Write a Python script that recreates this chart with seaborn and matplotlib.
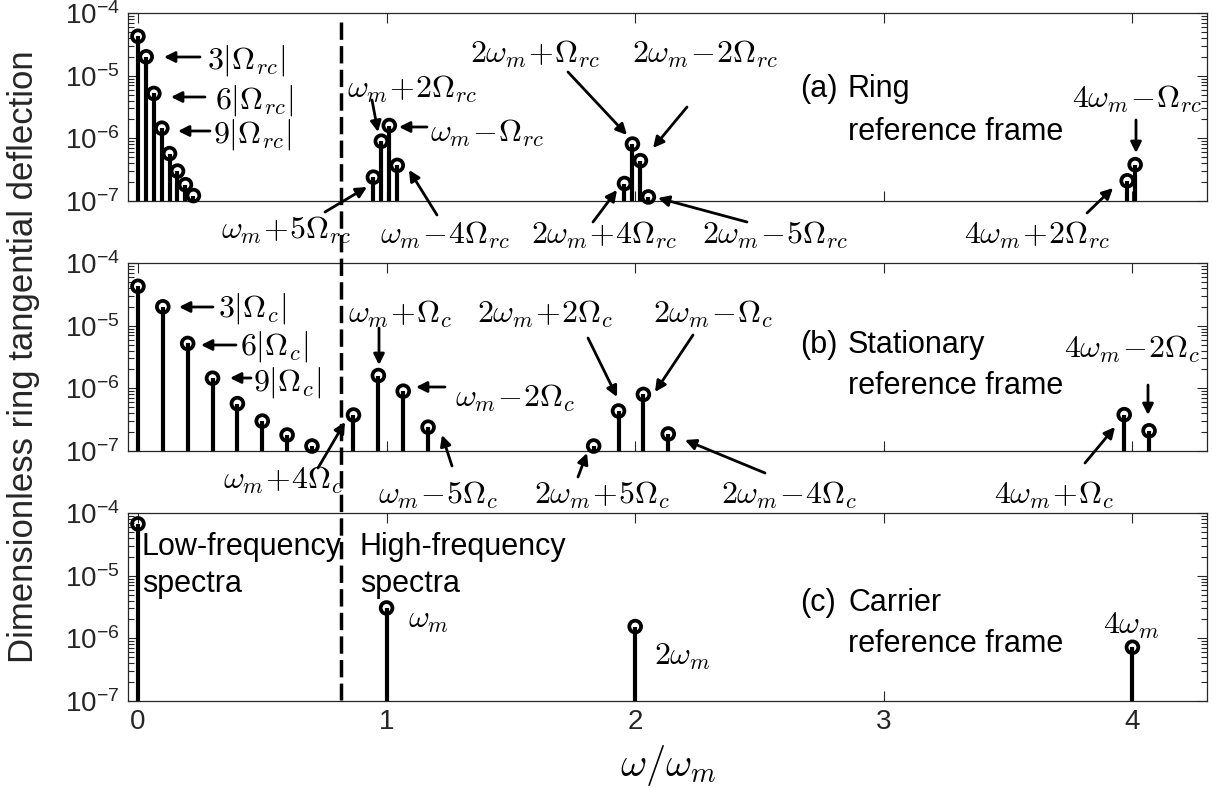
import numpy as np
import matplotlib
matplotlib.use("Agg")
import matplotlib.pyplot as plt
import seaborn as sns
from matplotlib import transforms
from matplotlib.lines import Line2D
from matplotlib.ticker import LogLocator, FixedLocator, FixedFormatter, NullFormatter

# (a) ring reference frame
a_x = [0.0, 0.033, 0.064, 0.096, 0.127, 0.159, 0.191, 0.223,
       0.947, 0.979, 1.011, 1.043, 1.957, 1.989, 2.021, 2.053, 3.979, 4.011]
a_y = [4.25e-5, 2.0e-5, 5.2e-6, 1.45e-6, 5.7e-7, 3.0e-7, 1.82e-7, 1.22e-7,
       2.4e-7, 9.0e-7, 1.6e-6, 3.7e-7, 1.9e-7, 8.1e-7, 4.4e-7, 1.16e-7, 2.1e-7, 3.8e-7]

# (b) stationary reference frame
b_x = [0.0, 0.1, 0.2, 0.3, 0.4, 0.5, 0.6, 0.7,
       0.867, 0.967, 1.067, 1.167, 1.833, 1.933, 2.033, 2.133, 3.967, 4.067]
b_y = [4.25e-5, 2.0e-5, 5.2e-6, 1.45e-6, 5.7e-7, 3.0e-7, 1.8e-7, 1.2e-7,
       3.75e-7, 1.6e-6, 9.0e-7, 2.4e-7, 1.2e-7, 4.35e-7, 8.0e-7, 1.87e-7, 3.8e-7, 2.1e-7]

# (c) carrier reference frame
c_x = [0.0, 1.0, 2.0, 4.0]
c_y = [6.7e-5, 3.05e-6, 1.54e-6, 7.2e-7]

x_ticks = [0, 1, 2, 3, 4]
y_ticks = [1e-7, 1e-6, 1e-5, 1e-4]
y_ticklabels = [r"$\mathregular{10^{-7}}$", r"$\mathregular{10^{-6}}$",
                r"$\mathregular{10^{-5}}$", r"$\mathregular{10^{-4}}$"]
split_freq = 0.817

sns.set_style("ticks")
plt.rcParams["font.family"] = ["Liberation Sans", "DejaVu Sans"]
plt.rcParams["mathtext.fontset"] = "cm"

W, H = 1213, 789
fig = plt.figure(figsize=(W / 100, H / 100), dpi=100)

boxes = [(13, 201), (263, 451), (513, 701)]
left, right = 128, 1207
axes = []
for top, bot in boxes:
    ax = fig.add_axes([left / W, 1 - bot / H, (right - left) / W, (bot - top) / H])
    axes.append(ax)


def stems(ax, xs, ys):
    ax.vlines(xs, 1e-7, ys, color="black", lw=3.0, zorder=2)
    sns.scatterplot(x=xs, y=ys, ax=ax, s=72, marker="o", facecolor="none",
                    edgecolor="black", linewidth=2.7, zorder=3, clip_on=False)


for ax, xs, ys in zip(axes, [a_x, b_x, c_x], [a_y, b_y, c_y]):
    stems(ax, xs, ys)
    ax.set_yscale("log")
    ax.set_ylim(1e-7, 1e-4)
    ax.set_xlim(-0.04, 4.30)
    ax.yaxis.set_major_locator(FixedLocator(y_ticks))
    ax.yaxis.set_major_formatter(FixedFormatter(y_ticklabels))
    ax.yaxis.set_minor_locator(LogLocator(base=10, subs=np.arange(2, 10), numticks=20))
    ax.yaxis.set_minor_formatter(NullFormatter())
    ax.set_xticks(x_ticks)
    ax.tick_params(which="both", direction="in", top=True, right=True,
                   left=True, bottom=True, color="#262626", width=0.8)
    ax.tick_params(which="major", length=7.5, labelsize=20, pad=6, labelcolor="#262626")
    ax.tick_params(which="minor", length=4)
    for sp in ax.spines.values():
        sp.set_color("#262626")
        sp.set_linewidth(0.9)
    ax.set_xlabel("")
    ax.set_ylabel("")
for ax in axes[:2]:
    ax.set_xticklabels([])
axes[2].set_xticklabels([str(t) for t in x_ticks])

# dashed divider across all panels
blend = transforms.blended_transform_factory(axes[2].transData, fig.transFigure)
fig.add_artist(Line2D([split_freq, split_freq], [1 - 22 / H, 1 - 700 / H], transform=blend,
                      color="black", lw=2.5, ls=(0, (5, 1.8)), zorder=5))

MS = 23  # math label size


def label(txt, x, y, ha="center", size=MS):
    fig.text(x / W, 1 - y / H, txt, ha=ha, va="center", fontsize=size, color="black")


def arrow(tail, head):
    fig.add_artist(matplotlib.patches.FancyArrowPatch(
        (tail[0] / W, 1 - tail[1] / H), (head[0] / W, 1 - head[1] / H),
        transform=fig.transFigure, arrowstyle="-|>", mutation_scale=16,
        color="black", lw=2.0, shrinkA=0, shrinkB=0, zorder=6))


# panel (a) labels
label(r"$3|\Omega_{rc}|$", 207, 60, ha="left")
arrow((200, 57), (164, 57))
label(r"$6|\Omega_{rc}|$", 215, 100, ha="left")
arrow((205, 97), (171, 97))
label(r"$9|\Omega_{rc}|$", 213, 134, ha="left")
arrow((210, 131), (178, 131))
label(r"$\omega_m\!+\!5\Omega_{rc}$", 286, 230)
arrow((325, 212), (367, 187))
label(r"$\omega_m\!+\!2\Omega_{rc}$", 412, 89)
arrow((372, 100), (378, 132))
label(r"$\omega_m\!-\!\Omega_{rc}$", 430, 133, ha="left")
arrow((427, 127), (399, 127))
label(r"$\omega_m\!-\!4\Omega_{rc}$", 445, 235)
arrow((437, 215), (409, 170))
label(r"$2\omega_m\!+\!\Omega_{rc}$", 535, 54)
arrow((568, 72), (627, 135))
label(r"$2\omega_m\!-\!2\Omega_{rc}$", 705, 54)
arrow((687, 107), (653, 148))
label(r"$2\omega_m\!+\!4\Omega_{rc}$", 604, 235)
arrow((593, 222), (617, 190))
label(r"$2\omega_m\!-\!5\Omega_{rc}$", 775, 235)
arrow((747, 222), (658, 198))
label(r"$4\omega_m\!-\!\Omega_{rc}$", 1137, 99)
arrow((1136, 120), (1136, 153))
label(r"$4\omega_m\!+\!2\Omega_{rc}$", 1037, 235)
arrow((1087, 213), (1113, 188))

# panel (b) labels
label(r"$3|\Omega_{c}|$", 218, 309, ha="left")
arrow((213, 307), (179, 307))
label(r"$6|\Omega_{c}|$", 240, 347, ha="left")
arrow((236, 345), (201, 345))
label(r"$9|\Omega_{c}|$", 253, 383, ha="left")
arrow((251, 378), (230, 378))
label(r"$\omega_m\!+\!4\Omega_{c}$", 283, 480)
arrow((318, 468), (345, 422))
label(r"$\omega_m\!+\!\Omega_{c}$", 400, 314)
arrow((379, 328), (379, 365))
label(r"$\omega_m\!-\!2\Omega_{c}$", 455, 398, ha="left")
arrow((445, 387), (416, 387))
label(r"$\omega_m\!-\!5\Omega_{c}$", 438, 495)
arrow((452, 466), (442, 435))
label(r"$2\omega_m\!+\!2\Omega_{c}$", 545, 314)
arrow((588, 338), (617, 397))
label(r"$2\omega_m\!-\!\Omega_{c}$", 713, 314)
arrow((693, 335), (655, 392))
label(r"$2\omega_m\!+\!5\Omega_{c}$", 602, 495)
arrow((578, 477), (587, 453))
label(r"$2\omega_m\!-\!4\Omega_{c}$", 789, 495)
arrow((765, 473), (685, 440))
label(r"$4\omega_m\!-\!2\Omega_{c}$", 1132, 349)
arrow((1148, 385), (1148, 415))
label(r"$4\omega_m\!+\!\Omega_{c}$", 1054, 495)
arrow((1085, 463), (1115, 427))

# panel (c) labels
label(r"$\omega_m$", 408, 620, ha="left")
label(r"$2\omega_m$", 654, 657, ha="left")
label(r"$4\omega_m$", 1131, 626)

# frame captions
TS = 22
for ax, tag, line1, y1, y2 in [(axes[0], "(a)", "Ring", 89, 132),
                               (axes[1], "(b)", "Stationary", 345, 386),
                               (axes[2], "(c)", "Carrier", 603, 644)]:
    label(tag, 800, y1, ha="left", size=TS)
    label(line1, 848, y1, ha="left", size=TS)
    label("reference frame", 848, y2, ha="left", size=TS)

label("Low-frequency", 142, 547, ha="left", size=TS)
label("spectra", 142, 584, ha="left", size=TS)
label("High-frequency", 360, 547, ha="left", size=TS)
label("spectra", 360, 584, ha="left", size=TS)

fig.text(668 / W, 1 - 766 / H, r"$\omega/\omega_m$", ha="center", va="center",
         fontsize=29, color="black")
fig.text(24 / W, 1 - 357 / H, "Dimensionless ring tangential deflection", rotation=90,
         ha="center", va="center", fontsize=25, color="#262626")

fig.savefig("out.png", dpi=100)
